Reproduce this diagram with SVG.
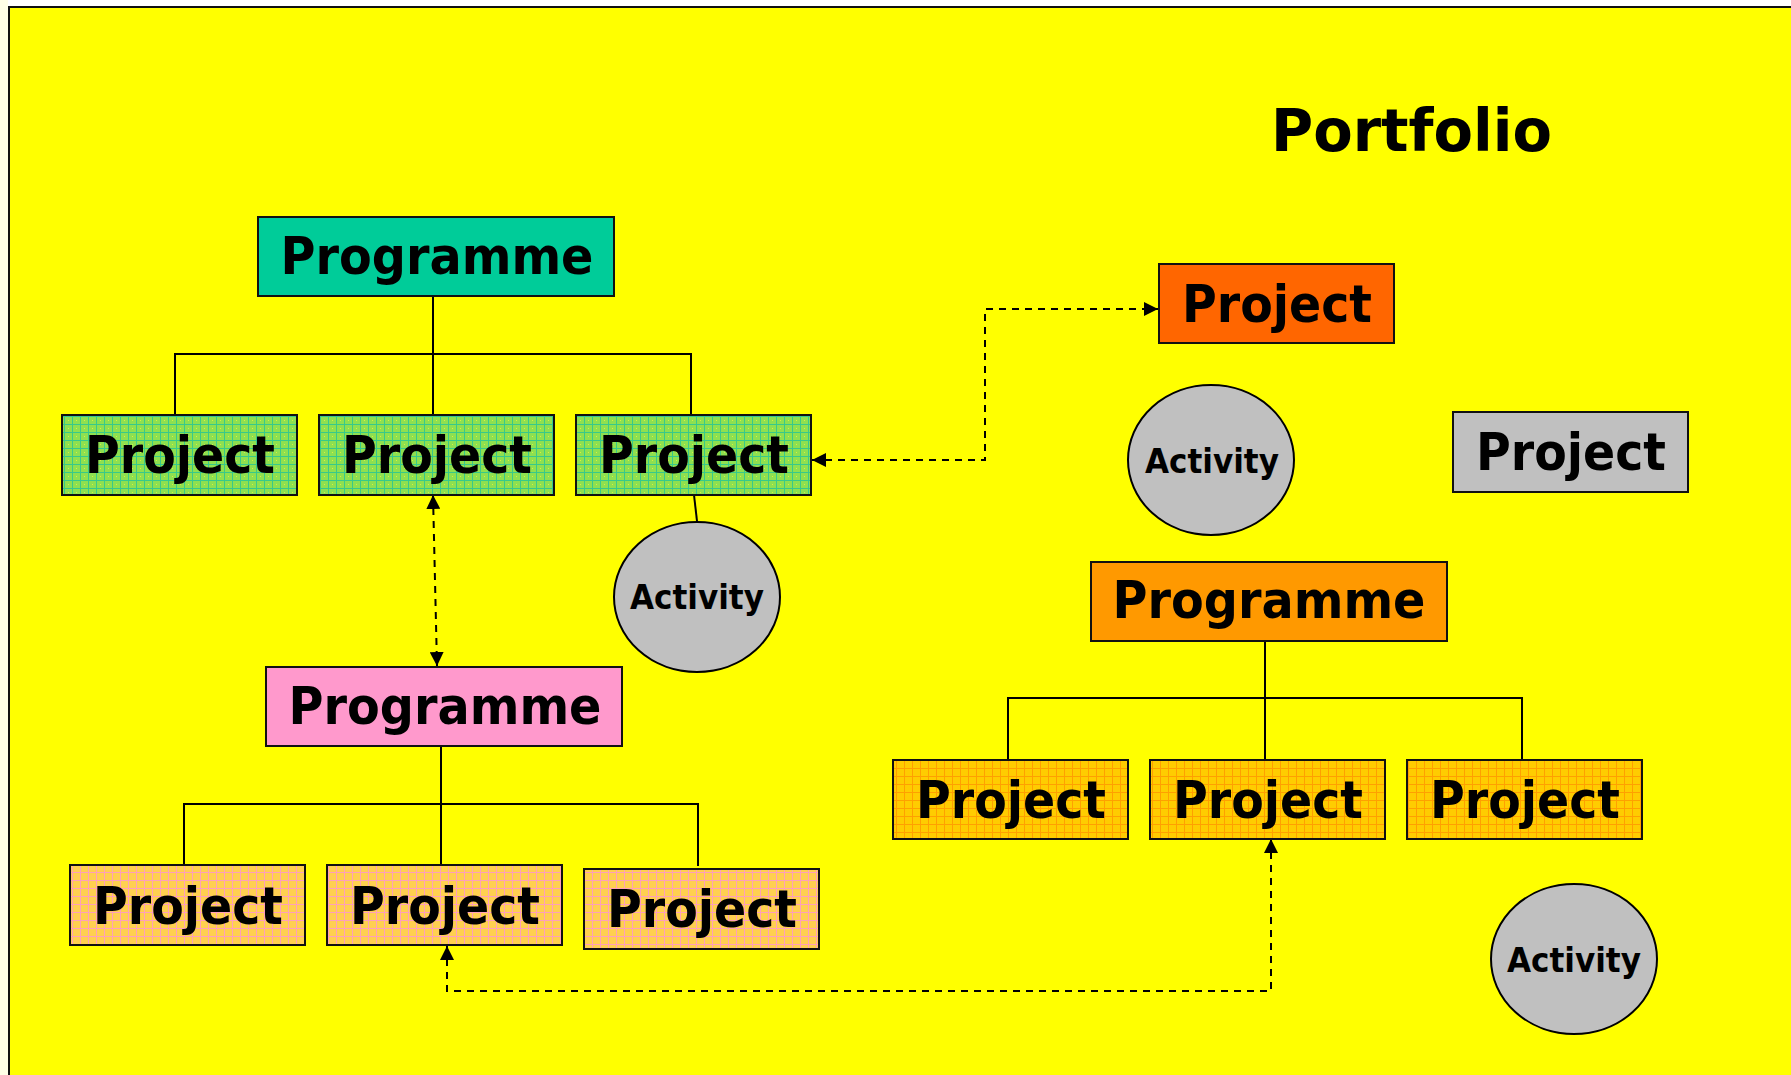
<svg xmlns="http://www.w3.org/2000/svg" width="1791" height="1075" viewBox="0 0 1791 1075">
<defs>
<style>
.box{stroke:#111;stroke-width:2}
.lbl{font-family:"DejaVu Sans Condensed","DejaVu Sans","Liberation Sans",sans-serif;font-weight:bold;font-stretch:condensed;fill:#000;text-anchor:middle}
.big{font-size:52px}
.act{font-size:33px}
.tree{fill:none;stroke:#000;stroke-width:2}
.dash{fill:none;stroke:#000;stroke-width:2;stroke-dasharray:7 6}
.ell{fill:#C0C0C0;stroke:#000;stroke-width:2}
</style>
<pattern id="pg" width="8" height="8" patternUnits="userSpaceOnUse">
<rect width="8" height="8" fill="#8EE050"/>
<path d="M0,0.5H8M0.5,0V8" stroke="#38C98A" stroke-width="1"/>
<rect x="4" y="4" width="1" height="1" fill="#D8F040"/>
</pattern>
<pattern id="pp" width="8" height="8" patternUnits="userSpaceOnUse">
<rect width="8" height="8" fill="#FFD050"/>
<path d="M0,0.5H8M0.5,0V8" stroke="#FFA0B8" stroke-width="1"/>
</pattern>
<pattern id="po" width="8" height="8" patternUnits="userSpaceOnUse">
<rect width="8" height="8" fill="#FFCC00"/>
<path d="M0,0.5H8M0.5,0V8" stroke="#FFA000" stroke-width="1"/>
</pattern>
<marker id="arr" viewBox="0 0 14 14" refX="14" refY="7" markerWidth="14" markerHeight="14" markerUnits="userSpaceOnUse" orient="auto-start-reverse">
<path d="M0,0 L14,7 L0,14 z" fill="#000"/>
</marker>
</defs>

<g id="background">
<rect x="0" y="0" width="1791" height="1075" fill="#FFFFFF"/>
<rect x="0" y="0" width="8" height="1075" fill="#FFFFE6"/>
<rect x="9" y="7" width="1800" height="1100" fill="#FFFF00" stroke="#111" stroke-width="2"/>
</g>

<g id="title">
<text x="1271" y="151" font-family="'DejaVu Sans','Liberation Sans',sans-serif" font-weight="bold" font-size="59" textLength="281" lengthAdjust="spacingAndGlyphs">Portfolio</text>
</g>

<g id="connectors">
<path class="tree" d="M433,296V415M175,415V354H691V415"/>
<path class="tree" d="M694,495L697,521"/>
<path class="dash" d="M433,495L437,666" marker-start="url(#arr)" marker-end="url(#arr)"/>
<path class="dash" d="M812,460H985V309H1158" marker-start="url(#arr)" marker-end="url(#arr)"/>
<path class="tree" d="M441,747V865M184,865V804H698V866"/>
<path class="dash" d="M447,946V991H1271V839" marker-start="url(#arr)" marker-end="url(#arr)"/>
<path class="tree" d="M1265,641V760M1008,760V698H1522V760"/>
</g>

<g id="programme-teal">
<rect class="box" x="258" y="217" width="356" height="79" fill="#00CC99"/>
<text class="lbl big" x="437" y="274" textLength="313" lengthAdjust="spacingAndGlyphs">Programme</text>
</g>
<g id="project-green-1">
<rect class="box" x="62" y="415" width="235" height="80" fill="url(#pg)"/>
<text class="lbl big" x="180" y="473" textLength="190" lengthAdjust="spacingAndGlyphs">Project</text>
</g>
<g id="project-green-2">
<rect class="box" x="319" y="415" width="235" height="80" fill="url(#pg)"/>
<text class="lbl big" x="437" y="473" textLength="190" lengthAdjust="spacingAndGlyphs">Project</text>
</g>
<g id="project-green-3">
<rect class="box" x="576" y="415" width="235" height="80" fill="url(#pg)"/>
<text class="lbl big" x="694" y="473" textLength="190" lengthAdjust="spacingAndGlyphs">Project</text>
</g>
<g id="activity-1">
<ellipse class="ell" cx="697" cy="597" rx="83" ry="75"/>
<text class="lbl act" x="697" y="609" textLength="134" lengthAdjust="spacingAndGlyphs">Activity</text>
</g>
<g id="programme-pink">
<rect class="box" x="266" y="667" width="356" height="79" fill="#FF99CC"/>
<text class="lbl big" x="445" y="724" textLength="313" lengthAdjust="spacingAndGlyphs">Programme</text>
</g>
<g id="project-peach-1">
<rect class="box" x="70" y="865" width="235" height="80" fill="url(#pp)"/>
<text class="lbl big" x="188" y="924" textLength="190" lengthAdjust="spacingAndGlyphs">Project</text>
</g>
<g id="project-peach-2">
<rect class="box" x="327" y="865" width="235" height="80" fill="url(#pp)"/>
<text class="lbl big" x="445" y="924" textLength="190" lengthAdjust="spacingAndGlyphs">Project</text>
</g>
<g id="project-peach-3">
<rect class="box" x="584" y="869" width="235" height="80" fill="url(#pp)"/>
<text class="lbl big" x="702" y="927" textLength="190" lengthAdjust="spacingAndGlyphs">Project</text>
</g>
<g id="project-red">
<rect class="box" x="1159" y="264" width="235" height="79" fill="#FF6600"/>
<text class="lbl big" x="1277" y="322" textLength="190" lengthAdjust="spacingAndGlyphs">Project</text>
</g>
<g id="activity-2">
<ellipse class="ell" cx="1211" cy="460" rx="83" ry="75"/>
<text class="lbl act" x="1212" y="473" textLength="134" lengthAdjust="spacingAndGlyphs">Activity</text>
</g>
<g id="project-gray">
<rect class="box" x="1453" y="412" width="235" height="80" fill="#C0C0C0"/>
<text class="lbl big" x="1571" y="470" textLength="190" lengthAdjust="spacingAndGlyphs">Project</text>
</g>
<g id="programme-orange">
<rect class="box" x="1091" y="562" width="356" height="79" fill="#FF9900"/>
<text class="lbl big" x="1269" y="618" textLength="313" lengthAdjust="spacingAndGlyphs">Programme</text>
</g>
<g id="project-orange-1">
<rect class="box" x="893" y="760" width="235" height="79" fill="url(#po)"/>
<text class="lbl big" x="1011" y="818" textLength="190" lengthAdjust="spacingAndGlyphs">Project</text>
</g>
<g id="project-orange-2">
<rect class="box" x="1150" y="760" width="235" height="79" fill="url(#po)"/>
<text class="lbl big" x="1268" y="818" textLength="190" lengthAdjust="spacingAndGlyphs">Project</text>
</g>
<g id="project-orange-3">
<rect class="box" x="1407" y="760" width="235" height="79" fill="url(#po)"/>
<text class="lbl big" x="1525" y="818" textLength="190" lengthAdjust="spacingAndGlyphs">Project</text>
</g>
<g id="activity-3">
<ellipse class="ell" cx="1574" cy="959" rx="83" ry="75"/>
<text class="lbl act" x="1574" y="972" textLength="134" lengthAdjust="spacingAndGlyphs">Activity</text>
</g>
</svg>
